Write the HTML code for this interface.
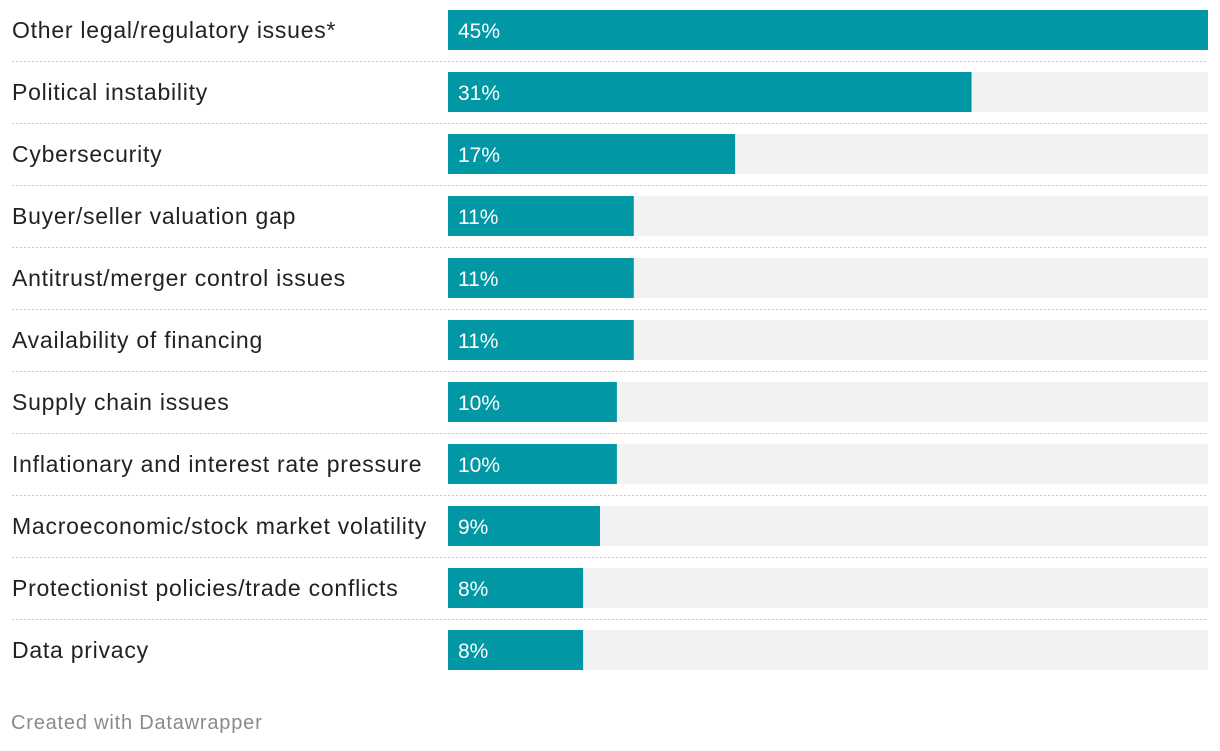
<!DOCTYPE html>
<html><head><meta charset="utf-8"><style>
body{margin:0;background:#fff;width:1220px;height:746px;overflow:hidden;font-family:"Liberation Sans",sans-serif}
</style></head><body>
<svg id="chart" width="1220" height="746" xmlns="http://www.w3.org/2000/svg">
<text x="11" y="729" font-size="20" letter-spacing="0.8" fill="#8a8a8a" font-family="Liberation Sans, sans-serif">Created with Datawrapper</text>
</svg>
<script>
const categories=["Other legal/regulatory issues*","Political instability","Cybersecurity","Buyer/seller valuation gap","Antitrust/merger control issues","Availability of financing","Supply chain issues","Inflationary and interest rate pressure","Macroeconomic/stock market volatility","Protectionist policies/trade conflicts","Data privacy"];
const values=[45,31,17,11,11,11,10,10,9,8,8];
const valueLabels=["45%","31%","17%","11%","11%","11%","10%","10%","9%","8%","8%"];
const maxVal=45;
const svg=document.getElementById('chart');
const NS="http://www.w3.org/2000/svg";
const x0=448,x1=1208,top0=10,pitch=62,bh=40;
const xs=v=>x0+(x1-x0)*v/maxVal;
function mk(t,a){const e=document.createElementNS(NS,t);for(const k in a)e.setAttribute(k,a[k]);svg.appendChild(e);return e;}
categories.forEach((c,i)=>{
  const y=top0+i*pitch;
  const bg=mk('rect',{x:x0,y:y,width:x1-x0,height:bh,fill:'#f2f2f2'});
  
  
  const b=mk('rect',{x:x0,y:y,width:xs(values[i])-x0,height:bh,fill:'#0197a5'});
  
  
  const l=mk('text',{x:12,y:y+28,'font-size':23,'letter-spacing':0.75,fill:'#222'});
  l.textContent=c;
  
  
  const v=mk('text',{x:x0+10,y:y+28,'font-size':21,fill:'#fff'});
  v.textContent=valueLabels[i];
  
  
  if(i<categories.length-1){
    const s=mk('line',{x1:12,x2:1208,y1:y+51.5,y2:y+51.5,stroke:'#c8c8c8','stroke-width':1,'stroke-dasharray':'2,2'});
    
    
  }
});
</script>
</body></html>
